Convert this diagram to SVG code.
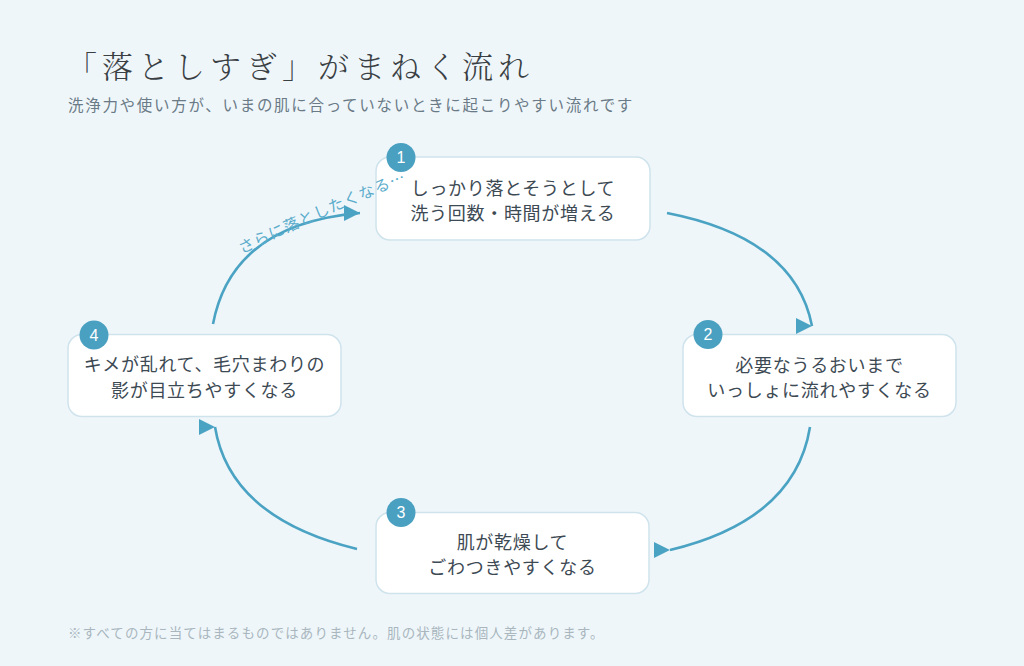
<svg xmlns="http://www.w3.org/2000/svg" width="1024" height="666" viewBox="0 0 1024 666">
<defs>
<style>
.bg{fill:#eff6fa}
.box{fill:#ffffff;stroke:#cfe3ec;stroke-width:1.5}
.badge{fill:#4aa0c0}
.num{font-family:"Liberation Sans","Noto Sans CJK JP",sans-serif;font-size:16px;fill:#ffffff;text-anchor:middle}
.txt{font-family:"Noto Sans CJK JP",sans-serif;font-size:18px;fill:#3d4a54;text-anchor:middle;letter-spacing:0.7px}
.title{font-family:"Noto Serif CJK JP","Noto Sans CJK JP",serif;font-size:31px;fill:#3a3f44;letter-spacing:5px;font-weight:300}
.sub{font-family:"Noto Sans CJK JP",sans-serif;font-size:15.5px;fill:#6a7a86;letter-spacing:1.7px}
.note{font-family:"Noto Sans CJK JP",sans-serif;font-size:13.5px;fill:#a9b6be;letter-spacing:1.1px}
.conn{fill:none;stroke:#4ba3c3;stroke-width:2.6}
.lbl{font-family:"Noto Sans CJK JP",sans-serif;font-size:15.5px;fill:#5aaccb;letter-spacing:0.9px}
</style>
<marker id="ah" markerWidth="18" markerHeight="18" refX="16" refY="8" orient="0" markerUnits="userSpaceOnUse">
<path d="M0,0 L16,8 L0,16 z" fill="#4ba3c3"/>
</marker>
<path id="lblpath" d="M242,254 Q318,217 430,172"/>
</defs>
<rect class="bg" x="0" y="0" width="1024" height="666"/>

<g id="header">
<text class="title" x="66" y="78">「落としすぎ」がまねく流れ</text>
<text class="sub" x="68" y="111">洗浄力や使い方が、いまの肌に合っていないときに起こりやすい流れです</text>
</g>

<g id="node1">
<rect class="box" x="376" y="157" width="274" height="83" rx="14"/>
<circle class="badge" cx="401" cy="157.5" r="14.5"/>
<text class="num" x="401" y="163">1</text>
<text class="txt" x="513" y="194.5">しっかり落とそうとして</text>
<text class="txt" x="513" y="219.5">洗う回数・時間が増える</text>
</g>

<g id="node2">
<rect class="box" x="683" y="334.5" width="273" height="82" rx="14"/>
<circle class="badge" cx="708" cy="334.5" r="14.5"/>
<text class="num" x="708" y="340">2</text>
<text class="txt" x="819.5" y="371.5">必要なうるおいまで</text>
<text class="txt" x="819.5" y="396.5">いっしょに流れやすくなる</text>
</g>

<g id="node3">
<rect class="box" x="376" y="512.5" width="273" height="81" rx="14"/>
<circle class="badge" cx="401" cy="512.5" r="14.5"/>
<text class="num" x="401" y="518">3</text>
<text class="txt" x="512.5" y="548.5">肌が乾燥して</text>
<text class="txt" x="512.5" y="573.5">ごわつきやすくなる</text>
</g>

<g id="node4">
<rect class="box" x="68" y="334.5" width="273" height="82" rx="14"/>
<circle class="badge" cx="94" cy="335" r="14.5"/>
<text class="num" x="94" y="340.5">4</text>
<text class="txt" x="204.5" y="371">キメが乱れて、毛穴まわりの</text>
<text class="txt" x="204.5" y="396.5">影が目立ちやすくなる</text>
</g>

<g id="connectors">
<path class="conn" d="M667,213 Q795,238 812,326" marker-end="url(#ah)"/>
<path class="conn" d="M810,427 Q795,520 670,550" marker-end="url(#ah)"/>
<path class="conn" d="M357,549 Q230,518 215,427" marker-end="url(#ah)"/>
<path class="conn" d="M213,324 Q232,224 360,213" marker-end="url(#ah)"/>
<text class="lbl"><textPath href="#lblpath">さらに落としたくなる…</textPath></text>
</g>

<g id="footer">
<text class="note" x="68" y="638">※すべての方に当てはまるものではありません。肌の状態には個人差があります。</text>
</g>
</svg>
